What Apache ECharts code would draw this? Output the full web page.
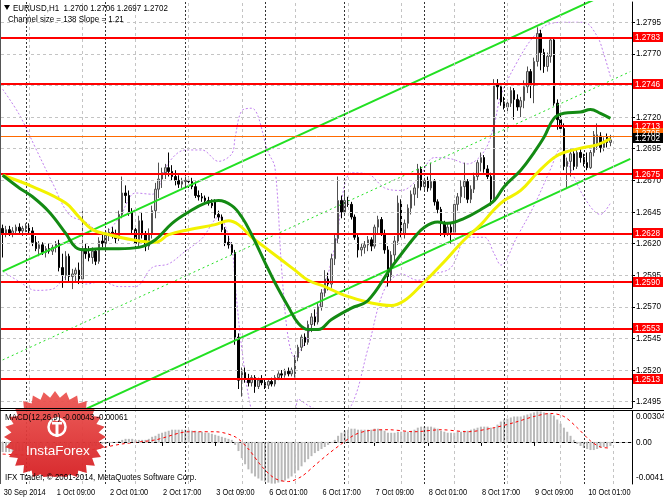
<!DOCTYPE html>
<html><head><meta charset="utf-8">
<script src="https://cdn.jsdelivr.net/npm/echarts@6/dist/echarts.min.js"></script>
<style>html,body{margin:0;padding:0;background:#fff}#c{width:664px;height:498px}</style>
</head><body><div id="c"></div>
<script>
// ---- data ----
const ohlc = [
[1.2632,1.2635,1.2609,1.2628],[1.2628,1.2634,1.2625,1.2631],[1.2631,1.2634,1.2626,1.2628],[1.2628,1.2633,1.2625,1.2630],
[1.2630,1.2635,1.2627,1.2633],[1.2633,1.2636,1.2628,1.2630],[1.2630,1.2634,1.2626,1.2632],[1.2632,1.2636,1.2629,1.2634],
[1.2634,1.2636,1.2628,1.2630],[1.2630,1.2633,1.2618,1.2621],[1.2621,1.2626,1.2614,1.2616],[1.2616,1.2622,1.2610,1.2619],
[1.2619,1.2621,1.2611,1.2613],[1.2613,1.2618,1.2609,1.2616],[1.2616,1.2620,1.2612,1.2614],[1.2614,1.2619,1.2611,1.2617],
[1.2617,1.2622,1.2613,1.2620],[1.2620,1.2623,1.2598,1.2601],[1.2601,1.2612,1.2585,1.2595],[1.2595,1.2614,1.2591,1.2610],
[1.2610,1.2612,1.2590,1.2594],[1.2594,1.2600,1.2584,1.2596],[1.2596,1.2601,1.2590,1.2599],[1.2599,1.2605,1.2588,1.2592],
[1.2592,1.2646,1.2588,1.2616],[1.2616,1.2620,1.2608,1.2612],[1.2612,1.2618,1.2606,1.2609],[1.2609,1.2617,1.2604,1.2614],
[1.2614,1.2616,1.2603,1.2606],[1.2606,1.2625,1.2604,1.2622],[1.2622,1.2628,1.2617,1.2620],[1.2620,1.2630,1.2618,1.2627],
[1.2627,1.2632,1.2622,1.2629],[1.2629,1.2633,1.2624,1.2627],[1.2627,1.2631,1.2620,1.2624],[1.2624,1.2646,1.2622,1.2643],
[1.2643,1.2673,1.2640,1.2660],[1.2660,1.2666,1.2652,1.2658],[1.2658,1.2662,1.2642,1.2645],[1.2645,1.2648,1.2628,1.2631],
[1.2631,1.2634,1.2617,1.2620],[1.2620,1.2642,1.2618,1.2638],[1.2638,1.2645,1.2624,1.2627],[1.2627,1.2630,1.2614,1.2618],
[1.2618,1.2632,1.2615,1.2628],[1.2628,1.2650,1.2624,1.2646],[1.2646,1.2668,1.2640,1.2663],[1.2663,1.2684,1.2656,1.2671],
[1.2671,1.2680,1.2664,1.2676],[1.2676,1.2683,1.2671,1.2680],[1.2680,1.2692,1.2673,1.2677],[1.2677,1.2682,1.2670,1.2673],
[1.2673,1.2678,1.2666,1.2670],[1.2670,1.2674,1.2664,1.2667],[1.2667,1.2672,1.2664,1.2669],[1.2669,1.2673,1.2665,1.2670],
[1.2670,1.2673,1.2664,1.2669],[1.2669,1.2672,1.2663,1.2665],[1.2665,1.2669,1.2656,1.2658],[1.2658,1.2662,1.2654,1.2657],
[1.2657,1.2660,1.2653,1.2656],[1.2656,1.2658,1.2651,1.2654],[1.2654,1.2657,1.2650,1.2652],[1.2652,1.2655,1.2648,1.2650],
[1.2653,1.2655,1.2640,1.2643],[1.2643,1.2646,1.2638,1.2641],[1.2641,1.2643,1.2629,1.2631],[1.2631,1.2633,1.2618,1.2620],
[1.2621,1.2626,1.2616,1.2619],[1.2619,1.2621,1.2611,1.2613],[1.2613,1.2615,1.2540,1.2546],[1.2546,1.2549,1.2505,1.2512],
[1.2512,1.2522,1.2499,1.2518],[1.2518,1.2522,1.2510,1.2513],[1.2513,1.2517,1.2507,1.2510],[1.2510,1.2516,1.2507,1.2514],
[1.2514,1.2516,1.2502,1.2507],[1.2507,1.2514,1.2505,1.2512],[1.2512,1.2516,1.2508,1.2510],[1.2510,1.2513,1.2505,1.2508],
[1.2508,1.2512,1.2505,1.2511],[1.2511,1.2514,1.2507,1.2509],[1.2509,1.2516,1.2507,1.2514],[1.2514,1.2519,1.2512,1.2517],
[1.2517,1.2520,1.2513,1.2516],[1.2516,1.2521,1.2514,1.2519],[1.2519,1.2522,1.2515,1.2517],[1.2517,1.2522,1.2515,1.2520],
[1.2517,1.2532,1.2514,1.2530],[1.2530,1.2540,1.2527,1.2538],[1.2538,1.2548,1.2535,1.2546],[1.2546,1.2549,1.2539,1.2542],
[1.2542,1.2559,1.2540,1.2556],[1.2556,1.2565,1.2550,1.2562],[1.2562,1.2568,1.2555,1.2558],[1.2558,1.2573,1.2556,1.2570],
[1.2570,1.2584,1.2567,1.2581],[1.2581,1.2599,1.2578,1.2592],[1.2592,1.2597,1.2583,1.2588],[1.2588,1.2612,1.2585,1.2608],
[1.2608,1.2628,1.2603,1.2624],[1.2624,1.2673,1.2620,1.2654],[1.2654,1.2658,1.2640,1.2645],[1.2645,1.2662,1.2643,1.2654],
[1.2654,1.2657,1.2649,1.2651],[1.2651,1.2653,1.2639,1.2641],[1.2641,1.2643,1.2623,1.2625],[1.2625,1.2628,1.2609,1.2615],
[1.2615,1.2620,1.2610,1.2617],[1.2617,1.2622,1.2612,1.2619],[1.2619,1.2626,1.2614,1.2623],[1.2623,1.2625,1.2614,1.2618],
[1.2618,1.2635,1.2616,1.2633],[1.2633,1.2642,1.2628,1.2639],[1.2639,1.2641,1.2626,1.2628],[1.2628,1.2631,1.2612,1.2615],
[1.2615,1.2618,1.2586,1.2594],[1.2594,1.2614,1.2590,1.2611],[1.2611,1.2626,1.2606,1.2622],[1.2622,1.2658,1.2619,1.2652],
[1.2652,1.2655,1.2625,1.2628],[1.2628,1.2639,1.2624,1.2636],[1.2636,1.2651,1.2632,1.2648],[1.2648,1.2662,1.2643,1.2659],
[1.2659,1.2667,1.2650,1.2664],[1.2664,1.2683,1.2656,1.2679],[1.2679,1.2681,1.2662,1.2665],[1.2665,1.2672,1.2662,1.2670],
[1.2670,1.2673,1.2661,1.2664],[1.2664,1.2684,1.2662,1.2669],[1.2669,1.2671,1.2650,1.2653],[1.2653,1.2655,1.2644,1.2647],
[1.2647,1.2649,1.2626,1.2636],[1.2636,1.2638,1.2625,1.2628],[1.2628,1.2636,1.2626,1.2633],[1.2633,1.2636,1.2620,1.2629],
[1.2629,1.2654,1.2627,1.2651],[1.2651,1.2660,1.2646,1.2657],[1.2657,1.2670,1.2652,1.2665],[1.2665,1.2684,1.2656,1.2669],
[1.2669,1.2671,1.2652,1.2655],[1.2655,1.2666,1.2652,1.2663],[1.2663,1.2676,1.2660,1.2673],[1.2673,1.2686,1.2670,1.2684],
[1.2684,1.2692,1.2677,1.2688],[1.2688,1.2690,1.2676,1.2679],[1.2679,1.2682,1.2671,1.2673],[1.2673,1.2676,1.2650,1.2655],
[1.2655,1.2750,1.2652,1.2746],[1.2746,1.2750,1.2734,1.2744],[1.2744,1.2747,1.2729,1.2732],[1.2732,1.2736,1.2726,1.2728],
[1.2728,1.2733,1.2724,1.2731],[1.2731,1.2744,1.2728,1.2741],[1.2741,1.2743,1.2718,1.2734],[1.2734,1.2738,1.2725,1.2728],
[1.2728,1.2736,1.2720,1.2733],[1.2733,1.2749,1.2727,1.2744],[1.2744,1.2760,1.2739,1.2756],[1.2756,1.2758,1.2735,1.2745],
[1.2745,1.2767,1.2731,1.2764],[1.2764,1.2791,1.2760,1.2786],[1.2786,1.2789,1.2757,1.2771],[1.2771,1.2774,1.2755,1.2760],
[1.2760,1.2771,1.2756,1.2768],[1.2768,1.2783,1.2763,1.2781],[1.2781,1.2783,1.2729,1.2731],[1.2731,1.2734,1.2710,1.2718],
[1.2718,1.2725,1.2708,1.2711],[1.2711,1.2715,1.2678,1.2681],[1.2681,1.2688,1.2664,1.2685],[1.2685,1.2695,1.2673,1.2691],
[1.2691,1.2693,1.2678,1.2681],[1.2681,1.2694,1.2679,1.2692],[1.2692,1.2696,1.2684,1.2688],[1.2688,1.2691,1.2681,1.2684],
[1.2684,1.2692,1.2678,1.2680],[1.2680,1.2694,1.2679,1.2692],[1.2692,1.2709,1.2689,1.2706],[1.2697,1.2715,1.2694,1.2706],
[1.2705,1.2708,1.2692,1.2696],[1.2696,1.2704,1.2693,1.2701],[1.2704,1.2707,1.2696,1.2700],[1.2700,1.2706,1.2697,1.2702]
];
// moving averages: [bar index, price]
const maYellow = [[0,1.2674],[9,1.2665],[19,1.2652],[23,1.2641],[27,1.2631],[32,1.2627],[39,1.2623],[46,1.2621],[50,1.2627],[56,1.2631],[64,1.2635],[68,1.2638],[71,1.2635],[75,1.2625],[79,1.2617],[84,1.2607],[88,1.2599],[92,1.2591],[97,1.2586],[103,1.2579],[111,1.2573],[117,1.2571],[121,1.2575],[126,1.2587],[132,1.2603],[139,1.2623],[144,1.2635],[148,1.2647],[151,1.2654],[156,1.2662],[161,1.2676],[166,1.2688],[169,1.2692],[175,1.2696],[179,1.2698],[183,1.2703]];
const maGreen = [[0,1.2674],[5,1.2664],[9,1.2657],[14,1.2645],[19,1.2628],[22,1.2617],[25,1.2615],[29,1.2616],[35,1.2616],[41,1.2617],[46,1.2623],[51,1.2636],[56,1.2645],[61,1.2652],[65,1.2654],[69,1.2650],[72,1.2641],[75,1.2627],[79,1.2605],[82,1.2589],[86,1.2570],[89,1.2557],[92,1.2552],[95,1.2552],[99,1.2560],[105,1.2569],[110,1.2575],[117,1.2601],[124,1.2625],[127,1.2633],[131,1.2637],[134,1.2636],[139,1.2640],[144,1.2647],[148,1.2654],[151,1.2665],[156,1.2678],[160,1.2692],[163,1.2704],[166,1.2719],[169,1.2723],[174,1.2724],[177,1.2726],[180,1.2723],[183,1.2719]];
// bands (dotted violet)
const bandUpper = [[0,1.2742],[5,1.2722],[10,1.2695],[15,1.2668],[20,1.2643],[25,1.2637],[30,1.2628],[35,1.2640],[40,1.2660],[45,1.2659],[50,1.2684],[55,1.2694],[60,1.2694],[65,1.2685],[69,1.2691],[70,1.2704],[72,1.2725],[75,1.2727],[80,1.2692],[82,1.2680],[84,1.2600],[86,1.2545],[88,1.2530],[90,1.2537],[92,1.2548],[95,1.2568],[100,1.2617],[105,1.2676],[110,1.2675],[115,1.2664],[120,1.2662],[125,1.2671],[130,1.2688],[135,1.2687],[140,1.2683],[145,1.2693],[148,1.2714],[150,1.2737],[155,1.2764],[160,1.2784],[165,1.2794],[170,1.2795],[175,1.2795],[179,1.2784],[181,1.2770],[183,1.2752]];
const bandLower = [[0,1.2598],[5,1.2590],[10,1.2583],[15,1.2584],[20,1.2595],[25,1.2588],[30,1.2590],[35,1.2586],[40,1.2586],[45,1.2601],[50,1.2604],[55,1.2614],[60,1.2624],[65,1.2641],[69,1.2615],[70,1.2588],[72,1.2537],[75,1.2487],[80,1.2446],[85,1.2450],[88,1.2475],[89,1.2497],[92,1.2492],[95,1.2488],[100,1.2483],[105,1.2492],[110,1.2537],[115,1.2584],[120,1.2596],[125,1.2591],[130,1.2596],[135,1.2601],[140,1.2625],[145,1.2625],[148,1.2612],[150,1.2603],[155,1.2626],[160,1.2650],[165,1.2679],[168,1.2695],[170,1.2685],[175,1.2657],[180,1.2643],[183,1.2652]];
// regression channel end points
const chUpper = [[0,1.2598],[189,1.2826]];
const chMiddle = [[0,1.2528],[189,1.2756]];
const chLower = [[0,1.2459],[189,1.2687]];
// horizontal levels
const levels = [1.2783,1.2746,1.2713,1.2675,1.2628,1.2590,1.2553,1.2513];
const askPrice = 1.2705, bidPrice = 1.2702;
const priceTicks = [1.2495,1.2520,1.2545,1.2570,1.2595,1.2620,1.2645,1.2670,1.2695,1.2720,1.2745,1.2770,1.2795];
// MACD (x 1e-4)
const macdMain = [-10,-10,-10,-10,-9,-9, -9,-8,-8,-8,-8,-7,-7,-7,-7,-6, -6,-7,-7,-7,-7,-8,-8,-7,-6,-5,
 -5,-4,-4,-3,-2,-2,-1,-1,0,1, 2,3,3,3,2,2,2,2,3,5, 6,8,9,10,11,12,12,12,12,12, 12,11,11,10,10,9,9,8,7,6,
 5,4,3,2,-3, -9,-16,-22,-27,-31,-34,-36,-38,-39,-40, -41,-41,-40,-39,-38,-36,-34,-31,-28,-24,-20,-17,
 -14,-11,-9,-7,-5,-3,-1,2,6,9,11, 12,13,13,12,12,12,12,12,13,13,12,11, 9,9,9,10,10,10,10,11,12,14,
 15,15,15,15,14,13,11,10,9,9,9,10,10,11,11, 12,13,14,15,15,15,14,14,17,20, 22,23,24,25,25,25,26,27,28,29,
 30,30,29,28,28,26,22,18,14,10, 6,2,-2,-4,-6,-7,-8,-8,-7,-6,-5,-5,-4];
const macdSignal = [[0,-12],[8,-13],[16,-10],[26,-8],[36,-2],[46,2],[56,10],[64,10],[70,5],[74,-7],[78,-24],[82,-36],[86,-39],[90,-34],[94,-23],[98,-12],[102,-2],[106,7],[110,11],[116,12],[124,10],[132,12],[140,10],[148,14],[154,19],[160,25],[165,28],[169,25],[173,14],[177,1],[180,-5],[183,-6]];
const macdTicks = [0.00304, 0, -0.00414];
const timeLabels = ['30 Sep 2014','1 Oct 09:00','2 Oct 01:00','2 Oct 17:00','3 Oct 09:00','6 Oct 01:00','6 Oct 17:00','7 Oct 09:00','8 Oct 01:00','8 Oct 17:00','9 Oct 09:00','10 Oct 01:00'];
const labelStep = 16;
const gridBars = [8,24,40,56,72,88,104,120,136,152,168,184];
const daySeparators = [7,31,55,79,103,127,151,175];
const totalSlots = 190;
const categories = Array.from({length: totalSlots}, (_, i) => String(i));

// ---- chart ----
const FONT = '"Liberation Sans",Arial,sans-serif';
const chart = echarts.init(document.getElementById('c'), null, {renderer: 'canvas'});
const vGrid = gridBars.map(i => ({xAxis: i, lineStyle: {color: '#c4c4c4', type: [3, 3], width: 1}}));
const vSep = daySeparators.map(i => ({xAxis: i, lineStyle: {color: '#333', type: [2, 2], width: 1}}));
const hGrid = priceTicks.map(v => ({yAxis: v, lineStyle: {color: '#c4c4c4', type: [3, 3], width: 1}}));
const mlBase = {silent: true, precision: 6, symbol: ['none', 'none'], label: {show: false}, animation: false};
const lblInterval = (idx) => idx % labelStep === 0 && idx / labelStep < timeLabels.length;

const option = {
  animation: false,
  backgroundColor: '#ffffff',
  grid: [
    {left: 1, right: 32, top: 2, height: 406, show: false},
    {left: 1, right: 32, top: 411, height: 73, show: false}
  ],
  xAxis: [
    {type: 'category', gridIndex: 0, data: categories, boundaryGap: true, axisLine: {show: false}, axisTick: {show: false}, axisLabel: {show: false}, splitLine: {show: false}},
    {type: 'category', gridIndex: 1, data: categories, boundaryGap: true,
     axisLine: {show: true, lineStyle: {color: '#000', width: 1}},
     axisTick: {show: true, interval: lblInterval, alignWithLabel: true, length: 4, lineStyle: {color: '#000'}},
     axisLabel: {show: false}, splitLine: {show: false}}
  ],
  yAxis: [
    {type: 'value', gridIndex: 0, position: 'right', min: 1.2490, max: 1.2811,
     axisLine: {show: true, lineStyle: {color: '#000'}},
     axisTick: {show: true, customValues: priceTicks, length: 3, lineStyle: {color: '#000'}},
     axisLabel: {show: false, customValues: priceTicks}, splitLine: {show: false}},
    {type: 'value', gridIndex: 1, position: 'right', min: -0.00414, max: 0.00304,
     axisLine: {show: true, lineStyle: {color: '#000'}},
     axisTick: {show: false}, axisLabel: {show: false}, splitLine: {show: false}}
  ],
  series: [
    {name: 'gridMain', type: 'line', xAxisIndex: 0, yAxisIndex: 0, data: [], z: 1,
     markLine: Object.assign({}, mlBase, {data: [...hGrid, ...vGrid, ...vSep]})},
    {name: 'gridMacd', type: 'line', xAxisIndex: 1, yAxisIndex: 1, data: [], z: 1,
     markLine: Object.assign({}, mlBase, {data: [{yAxis: 0, lineStyle: {color: '#c4c4c4', type: [3, 3]}}, ...vGrid, ...vSep]})},
    {name: 'bandUpper', type: 'line', data: bandUpper, symbol: 'none', smooth: 0.35, z: 2, clip: true, lineStyle: {color: '#c080ee', width: 1, type: [2, 2]}},
    {name: 'bandLower', type: 'line', data: bandLower, symbol: 'none', smooth: 0.35, z: 2, clip: true, lineStyle: {color: '#c080ee', width: 1, type: [2, 2]}},
    {name: 'price', type: 'candlestick', xAxisIndex: 0, yAxisIndex: 0, z: 3, barWidth: 2,
     data: ohlc.map(r => [r[0], r[3], r[2], r[1]]),
     itemStyle: {color: '#cfcfcf', color0: '#000000', borderColor: '#505050', borderColor0: '#000000', borderWidth: 1}},
    {name: 'chUpper', type: 'line', data: chUpper, symbol: 'none', z: 4, lineStyle: {color: '#22e022', width: 2}, clip: true},
    {name: 'chLower', type: 'line', data: chLower, symbol: 'none', z: 4, lineStyle: {color: '#22e022', width: 2}, clip: true},
    {name: 'chMiddle', type: 'line', data: chMiddle, symbol: 'none', z: 4, lineStyle: {color: '#22e022', width: 1, type: [2, 3]}, clip: true},
    {name: 'maYellow', type: 'line', data: maYellow, symbol: 'none', smooth: 0.4, z: 5, lineStyle: {color: '#f2f200', width: 3}},
    {name: 'maGreen', type: 'line', data: maGreen, symbol: 'none', smooth: 0.4, z: 5, lineStyle: {color: '#138a13', width: 3}},
    {name: 'levels', type: 'line', data: [], z: 6,
     markLine: Object.assign({}, mlBase, {
       data: [
         ...levels.map(v => ({yAxis: v, lineStyle: {color: '#ff0000', width: 2, type: 'solid'}})),
         {yAxis: askPrice, lineStyle: {color: '#ff6a00', width: 1, type: 'solid'}}
       ]})},
    {name: 'macd', type: 'bar', xAxisIndex: 1, yAxisIndex: 1, z: 3, barWidth: 2,
     data: macdMain.map(v => v * 1e-4), itemStyle: {color: '#b9b9b9'}},
    {name: 'signal', type: 'line', xAxisIndex: 1, yAxisIndex: 1, z: 4, symbol: 'none', smooth: 0.3,
     data: macdSignal.map(p => [p[0], p[1] * 1e-4]), lineStyle: {color: '#ff0000', width: 1, type: [3, 3]}}
  ]
};
chart.setOption(option);

// ---- overlay texts and labels placed through the axes ----
const gfx = [];
function txt(x, y, s, sx, fill, size, z) {
  return {type: 'text', x: x, y: y, scaleX: sx, z: z || 50, silent: true,
    style: {text: s, fill: fill || '#000', font: (size || 9.5) + 'px ' + FONT, verticalAlign: 'middle', align: 'left'}};
}
function tag(y, s, bg) {
  gfx.push({type: 'rect', z: 60, silent: true, shape: {x: 633, y: Math.round(y) - 5, width: 30, height: 10}, style: {fill: bg}});
  gfx.push(txt(635, Math.round(y), s, 0.86, '#fff', 9.5, 61));
}
const yP = v => chart.convertToPixel({yAxisIndex: 0}, v);
const yM = v => chart.convertToPixel({yAxisIndex: 1}, v);
const xP = i => chart.convertToPixel({xAxisIndex: 1}, String(i));
priceTicks.forEach(v => gfx.push(txt(636, yP(v), v.toFixed(4), 0.86)));
macdTicks.forEach((v, k) => {
  const dy = k === 0 ? 5 : (k === 2 ? -7 : 0);
  gfx.push(txt(636, yM(v) + dy, v === 0 ? '0.00' : v.toFixed(5), 0.86));
});
timeLabels.forEach((s, k) => gfx.push(txt(xP(k * labelStep) + 1, 492, s, 0.78)));
levels.forEach(v => tag(yP(v), v.toFixed(4), '#ff0000'));
tag(yP(askPrice) - 3, askPrice.toFixed(4), '#ff6a00');
tag(yP(bidPrice) - 2, bidPrice.toFixed(4), '#000000');

// frame lines
const L = (x1, y1, x2, y2, w, c) => ({type: 'line', z: 45, silent: true, shape: {x1: x1, y1: y1, x2: x2, y2: y2}, style: {stroke: c || '#000', lineWidth: w || 1}});
gfx.push(L(0.5, 0, 0.5, 484, 1, '#555'));
gfx.push(L(0, 408.5, 632, 408.5, 1));
gfx.push(L(0, 410.5, 664, 410.5, 1));

// InstaForex badge
const cx = 55, cy = 437, rx = 51, ry = 46, spikes = 28;
const pts = [];
for (let k = 0; k < spikes * 2; k++) {
  const a = Math.PI * k / spikes - Math.PI / 2;
  const f = k % 2 === 0 ? 1 : 0.86;
  pts.push([cx + rx * f * Math.cos(a), Math.min(477, cy + ry * f * Math.sin(a))]);
}
gfx.push({type: 'polygon', z: 40, silent: true, shape: {points: pts},
  style: {fill: new echarts.graphic.LinearGradient(0, 0, 0, 1, [{offset: 0, color: 'rgba(236,84,80,0.93)'}, {offset: 1, color: 'rgba(214,32,36,0.95)'}])}});
gfx.push({type: 'circle', z: 41, silent: true, shape: {cx: 57, cy: 427, r: 8.5}, style: {fill: 'none', stroke: '#fff', lineWidth: 2.5}});
gfx.push({type: 'rect', z: 42, silent: true, shape: {x: 55.5, y: 424, width: 3, height: 13}, style: {fill: '#fff'}});
gfx.push({type: 'rect', z: 42, silent: true, shape: {x: 52, y: 422, width: 10, height: 2.5}, style: {fill: '#fff'}});
gfx.push({type: 'circle', z: 42, silent: true, shape: {cx: 57, cy: 419, r: 2.2}, style: {fill: '#fff'}});
gfx.push({type: 'text', z: 43, silent: true, x: 26, y: 451, style: {text: 'InstaForex', fill: '#fff', font: '13.5px ' + FONT, verticalAlign: 'middle'}});

// header and captions
gfx.push({type: 'polygon', z: 50, silent: true, shape: {points: [[4, 5], [10, 5], [7, 10]]}, style: {fill: '#000'}});
gfx.push(txt(13, 8, 'EURUSD,H1  1.2700 1.2706 1.2697 1.2702', 0.84));
gfx.push(txt(8, 19, 'Channel size = 138 Slope = 1.21', 0.84));
gfx.push(txt(5, 417, 'MACD(12,26,9) -0.00043 -0.00061', 0.84));
gfx.push(txt(5, 477, 'IFX Trader, \u00A9 2001-2014, MetaQuotes Software Corp.', 0.84));
chart.setOption({graphic: gfx});
</script></body></html>
